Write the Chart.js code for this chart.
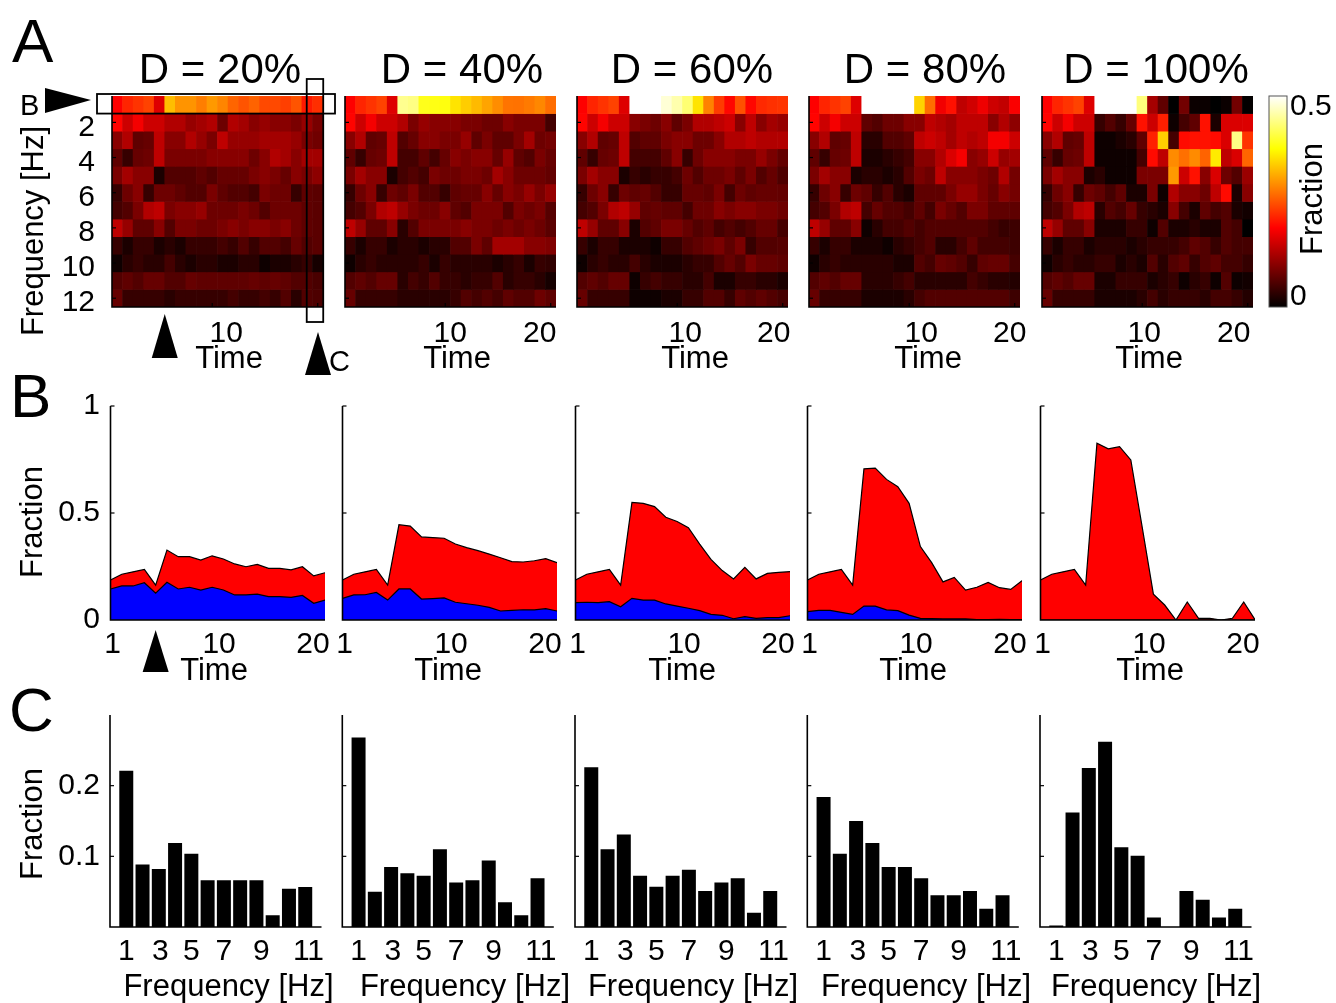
<!DOCTYPE html>
<html>
<head>
<meta charset="utf-8">
<script src="https://cdn.jsdelivr.net/npm/chart.js@4.4.1/dist/chart.umd.min.js"></script>
<style>
  body { margin: 0; background: #fff; }
  #fig { position: relative; width: 1336px; height: 1003px; overflow: hidden; background: #fff; }
  #fig canvas { position: absolute; left: 0; top: 0; }
</style>
</head>
<body>
<div id="fig"></div>
<script>
// ---- data -------------------------------------------------------------
const duty = [20, 40, 60, 80, 100];
const times = [1, 2, 3, 4, 5, 6, 7, 8, 9, 10, 11, 12, 13, 14, 15, 16, 17, 18, 19, 20];
const freqs = [1, 2, 3, 4, 5, 6, 7, 8, 9, 10, 11, 12];
const heatRowTicks = [2, 4, 6, 8, 10, 12];
const freqTickAt = [1, 3.1, 5, 7, 9.3, 12.2];
const freqTickText = ['1', '3', '5', '7', '9', '11'];

// fraction at 1 Hz over time (red = all, blue = lower part)
const total20 = [0.187, 0.214, 0.225, 0.236, 0.163, 0.327, 0.296, 0.296, 0.28, 0.30, 0.285, 0.262, 0.249, 0.26, 0.241, 0.241, 0.234, 0.249, 0.206, 0.221];
const blue20 = [0.145, 0.159, 0.159, 0.174, 0.125, 0.176, 0.145, 0.153, 0.14, 0.153, 0.14, 0.117, 0.117, 0.121, 0.109, 0.109, 0.106, 0.115, 0.078, 0.093];
const total40 = [0.187, 0.214, 0.225, 0.236, 0.163, 0.445, 0.439, 0.388, 0.385, 0.382, 0.355, 0.338, 0.324, 0.308, 0.291, 0.273, 0.271, 0.277, 0.287, 0.268];
const blue40 = [0.101, 0.117, 0.118, 0.129, 0.093, 0.145, 0.145, 0.098, 0.10, 0.103, 0.083, 0.076, 0.069, 0.059, 0.042, 0.045, 0.048, 0.047, 0.053, 0.042];
const total60 = [0.187, 0.214, 0.225, 0.236, 0.163, 0.55, 0.545, 0.53, 0.48, 0.46, 0.431, 0.355, 0.283, 0.231, 0.192, 0.246, 0.192, 0.218, 0.223, 0.226];
const blue60 = [0.081, 0.083, 0.081, 0.086, 0.062, 0.101, 0.093, 0.093, 0.075, 0.065, 0.055, 0.044, 0.026, 0.022, 0.006, 0.016, 0.008, 0.011, 0.011, 0.02];
const total80 = [0.187, 0.214, 0.225, 0.236, 0.163, 0.706, 0.71, 0.657, 0.623, 0.545, 0.343, 0.268, 0.178, 0.199, 0.14, 0.153, 0.176, 0.151, 0.143, 0.184];
const blue80 = [0.039, 0.045, 0.045, 0.036, 0.026, 0.065, 0.065, 0.047, 0.044, 0.023, 0.008, 0.006, 0.005, 0.005, 0.005, 0.002, 0.002, 0.003, 0.002, 0.002];
const total100 = [0.187, 0.214, 0.225, 0.236, 0.163, 0.826, 0.80, 0.81, 0.748, 0.436, 0.121, 0.07, 0, 0.084, 0.008, 0.008, 0, 0.008, 0.084, 0.002];
const blue100 = [0, 0, 0, 0, 0, 0, 0, 0, 0, 0, 0, 0, 0, 0, 0, 0, 0, 0, 0, 0];

// fraction per frequency at the last time step
const freq20 = [0.221, 0.0885, 0.082, 0.119, 0.1035, 0.066, 0.066, 0.066, 0.066, 0.0165, 0.054, 0.0565];
const freq40 = [0.268, 0.050, 0.085, 0.076, 0.0725, 0.11, 0.063, 0.066, 0.094, 0.035, 0.0165, 0.069];
const freq60 = [0.226, 0.11, 0.131, 0.0725, 0.057, 0.0725, 0.081, 0.051, 0.063, 0.069, 0.02, 0.051];
const freq80 = [0.184, 0.1035, 0.15, 0.119, 0.085, 0.085, 0.069, 0.045, 0.045, 0.051, 0.026, 0.045];
const freq100 = [0.002, 0.162, 0.225, 0.262, 0.113, 0.101, 0.0136, 0, 0.051, 0.0386, 0.0136, 0.026];

// heat map cells in percent, rows 2..12 Hz; times 1-5 are the same for every D
const hmEarly = [
  [19, 15, 18, 15, 15],
  [10, 13, 7, 7.5, 14],
  [7, 4, 7.5, 8, 14],
  [9, 12, 10, 10, 2],
  [4, 8, 10, 4, 8],
  [5, 6, 9, 13, 14],
  [14, 11, 7, 7, 10],
  [4, 2, 4, 4, 2],
  [1, 3, 4, 3, 3],
  [6, 7, 6, 7.5, 7.5],
  [7.5, 4, 4, 4, 4]
];
// times 6..19
const hm20 = [
  [13, 13, 11, 12, 13, 8, 13, 12, 10, 11, 10, 10, 9, 11],
  [10, 10, 13, 11, 9, 14, 11, 11, 11, 12, 12, 12, 11, 9],
  [9, 9, 9, 9, 10, 10, 10, 10, 8, 10, 13, 12, 10, 12],
  [6, 6, 6, 7, 6, 7.5, 7.5, 7.5, 9, 10, 9, 7.5, 10, 9],
  [8, 7, 6, 6, 9, 7, 6, 6, 5, 9, 8, 8, 4, 7],
  [9, 10, 10, 11, 8, 8, 8, 9, 8, 6, 8, 8, 8, 7],
  [6, 9, 9, 8, 8, 9, 10, 9, 10, 10, 9, 10, 8, 7],
  [3, 2, 4, 4, 4, 5, 4, 6, 4, 6, 6, 5, 7.5, 6],
  [5, 3, 2, 3, 3, 2, 2, 3, 3, 1, 2, 2, 3, 4],
  [6, 6, 7.5, 7, 7, 7, 7, 7, 7.5, 7, 7.5, 7, 6, 6],
  [3, 4, 4, 4, 4, 4, 5, 4, 4, 5, 4, 6, 3, 6]
];
const hm40 = [
  [13, 9, 11, 10, 10, 10, 9, 9, 8, 8, 10, 9, 9, 9],
  [6, 7.5, 10, 10, 9, 9, 11, 7, 9, 7, 7, 9, 12, 8],
  [5, 5, 7, 5, 7.5, 10, 9, 10, 10, 7.5, 11, 7, 6, 9],
  [5, 6, 5, 9, 8, 8, 9, 9, 8, 12, 10, 8, 8, 8],
  [7, 9, 6, 6, 4, 7, 7.5, 7.5, 10, 7.5, 10, 9, 11, 9],
  [11, 9, 8, 8, 10, 7, 6, 9, 9, 9, 6, 9, 8, 9],
  [3, 6, 9, 9, 9, 9, 10, 9, 9, 8, 9, 8, 9, 8],
  [3, 3, 2, 3, 3, 6, 6, 9, 7, 12, 12, 12, 10, 10],
  [3, 3, 4, 2, 4, 3, 3, 3, 3, 2, 3, 4, 2, 4],
  [3, 5, 4, 6, 4, 4, 3, 4, 4, 6, 3, 4, 4, 3],
  [3, 3, 3, 3, 3, 4, 6, 5, 6, 5, 7, 6, 6, 8]
];
const hm60 = [
  [10, 9, 8, 10, 7, 9, 13, 13, 14, 15, 10, 14, 10, 12],
  [6, 7, 7, 9, 10, 10, 8, 8, 10, 13, 13, 14, 13, 13],
  [5, 5, 5, 7, 10, 4, 8, 10, 10, 10, 9, 9, 11, 9],
  [4, 3, 4, 4, 5, 8, 6, 8, 8, 9, 7, 9, 6, 7.5],
  [7, 7.5, 6, 4, 4, 7.5, 7.5, 7, 9, 5, 8, 7, 7.5, 7.5],
  [11, 7, 7.5, 7, 7, 5, 8, 8, 10, 9, 10, 10, 9, 9],
  [2, 6, 7, 9, 9, 7.5, 6, 7, 5, 6, 5, 6, 7.5, 7.5],
  [2, 2, 1, 4, 4, 6, 7, 8, 9, 7, 9, 4, 6, 6],
  [5, 3, 2, 2, 2, 3, 4, 4, 6, 7.5, 6, 9, 7.5, 7.5],
  [1, 4, 5, 4, 4, 3, 3, 5, 2, 2, 4, 4, 3, 3],
  [1, 1, 1, 2, 2, 4, 4, 6, 6, 4, 7, 6, 7, 6]
];
const hm80 = [
  [7, 6, 8, 8, 10, 10, 14, 13, 12, 14, 14, 14, 10, 13],
  [3, 3, 6, 6, 7, 14, 15, 14, 12, 14, 13, 14, 18, 18],
  [2, 2, 3, 4, 5, 10, 10, 13, 16, 18, 10, 11, 15, 11],
  [3, 3, 2, 3, 6, 9, 8, 14, 10, 10, 10, 9, 8, 13],
  [7, 4, 6, 3, 2, 7, 7, 7, 9, 11, 11, 9, 7.5, 10],
  [5, 7.5, 6, 6, 5, 7, 5, 9, 7.5, 6, 9, 9, 7, 7],
  [1, 3, 5, 5, 6, 5, 6, 6, 6, 6, 6, 6, 5, 4],
  [2, 2, 1, 3, 4, 5, 6, 3, 3, 5, 7, 5, 5, 5],
  [3, 3, 3, 2, 2, 6, 5, 7.5, 7, 6, 4, 7, 7.5, 7.5],
  [3, 3, 3, 4, 5, 3, 3, 3, 3, 3, 5, 4, 3, 3],
  [2, 2, 2, 2, 3, 5, 6, 6, 6, 6, 6, 6, 6, 6]
];
const hm100 = [
  [4, 6, 4, 7.5, 20, 15, 21, 1, 5, 7, 20, 2, 16, 16],
  [1, 1, 2, 3, 7, 21, 34, 5, 19.5, 20, 20, 19.5, 16, 44],
  [1, 1, 1, 1, 5, 19.5, 14, 29, 27, 29, 26, 36, 14, 16],
  [3, 1, 1, 1, 9, 9, 9, 30, 15, 20, 10, 16, 8, 6],
  [7, 5, 7, 2, 2, 9, 1, 13, 10, 10, 8, 14, 19.5, 2],
  [3, 6, 5, 7.5, 4, 3, 2, 10, 5, 2, 7, 5, 6, 2],
  [2, 2, 2, 4, 4, 1, 6, 2, 2, 3, 2, 2, 6, 5],
  [3, 3, 3, 2, 3, 4, 4, 4, 5, 7, 6, 4, 6, 5],
  [4, 4, 2, 3, 2, 6, 3, 6, 7, 4, 6, 7, 5, 5],
  [2, 2, 4, 4, 4, 2, 3, 4, 1, 3, 4, 1, 6, 1],
  [2, 2, 2, 2, 3, 5, 3, 4, 4, 4, 3, 5, 5, 4]
];

const totals = [total20, total40, total60, total80, total100];
const blues = [blue20, blue40, blue60, blue80, blue100];
const spectra = [freq20, freq40, freq60, freq80, freq100];
const heatMid = [hm20, hm40, hm60, hm80, hm100];

// ---- layout -----------------------------------------------------------
const W = 1336, H = 1003;
const heatLeft = [112, 345, 577, 809, 1042];
const heatW = 211, heatTop = 96, heatBottom = 307;
const areaLeft = [110.5, 342.5, 575.5, 807.5, 1040.5];
const areaW = 214.5, areaTop = 406, areaBottom = 620;
const barLeft = [110, 342.3, 575, 807.3, 1040];
const barW = 211.5, barTop = 715, barBottom = 927;
const titleX = [220, 462, 692, 925, 1156];
const timeAX = [229, 457, 695, 928, 1149];
const timeBX = [214, 448, 682, 913, 1150];
const freqNameX = [228.5, 465, 693, 926, 1156];
const heatDx10 = [14, 5, 8, 12, 2];
const heatDx20 = [0, -11, -9, -5, -14];
const FONT = '"Liberation Sans", Arial, Helvetica, sans-serif';
const TICK = 30, NAME = 31, TITLE = 42, LETTER = 62;

Chart.defaults.font.family = FONT;
Chart.defaults.animation = false;

const fig = document.getElementById('fig');

function newCanvas() {
  const c = document.createElement('canvas');
  c.width = W; c.height = H;
  fig.appendChild(c);
  return c;
}

function area(l, t, r, b) {
  return { left: l, top: t, right: W - r, bottom: H - b };
}

function baseOptions(padding, scales) {
  return {
    responsive: false,
    devicePixelRatio: 1,
    events: [],
    layout: { padding },
    plugins: { legend: { display: false }, tooltip: { enabled: false }, title: { display: false } },
    scales
  };
}

// MATLAB-style "hot" map, colour limits 0..0.5
function hot(v) {
  const t = Math.max(0, Math.min(1, v / 0.5));
  const r = Math.min(1, t / 0.375);
  const g = Math.max(0, Math.min(1, (t - 0.375) / 0.375));
  const b = Math.max(0, Math.min(1, (t - 0.75) / 0.25));
  return `rgb(${Math.round(r * 255)},${Math.round(g * 255)},${Math.round(b * 255)})`;
}

function txt(ctx, s, x, y, size, align = 'center', base = 'alphabetic') {
  ctx.save();
  ctx.fillStyle = '#000';
  ctx.font = `${size}px ${FONT}`;
  ctx.textAlign = align;
  ctx.textBaseline = base;
  ctx.fillText(s, x, y);
  ctx.restore();
}

function vtxt(ctx, s, x, y, size) {
  ctx.save();
  ctx.translate(x, y);
  ctx.rotate(-Math.PI / 2);
  txt(ctx, s, 0, 0, size);
  ctx.restore();
}

function tri(ctx, pts) {
  ctx.save();
  ctx.fillStyle = '#000';
  ctx.beginPath();
  ctx.moveTo(pts[0][0], pts[0][1]);
  ctx.lineTo(pts[1][0], pts[1][1]);
  ctx.lineTo(pts[2][0], pts[2][1]);
  ctx.closePath();
  ctx.fill();
  ctx.restore();
}

function axisLines(ctx, a) {
  ctx.save();
  ctx.strokeStyle = '#000';
  ctx.lineWidth = 1.6;
  ctx.beginPath();
  ctx.moveTo(a.left, a.top);
  ctx.lineTo(a.left, a.bottom);
  ctx.lineTo(a.right, a.bottom);
  ctx.stroke();
  ctx.restore();
}

function tick(ctx, x1, y1, x2, y2) {
  ctx.save();
  ctx.strokeStyle = '#000';
  ctx.lineWidth = 1.2;
  ctx.beginPath();
  ctx.moveTo(x1, y1);
  ctx.lineTo(x2, y2);
  ctx.stroke();
  ctx.restore();
}

// ---- row A: heat maps -------------------------------------------------
function heatGrid(i) {
  const rows = [totals[i].slice()];
  for (let r = 0; r < 11; r++) {
    const early = hmEarly[r].map(p => p / 100);
    const mid = heatMid[i][r].map(p => p / 100);
    rows.push(early.concat(mid, [spectra[i][r + 1]]));
  }
  return rows;
}

function heatFrame(i) {
  return {
    id: 'heatFrame',
    afterDraw(chart) {
      const { ctx, chartArea: a } = chart;
      const { x, y } = chart.scales;
      axisLines(ctx, a);
      heatRowTicks.forEach(v => {
        const py = y.getPixelForValue(v - 0.5);
        tick(ctx, a.left, py, a.left + 4, py);
        if (i === 0) txt(ctx, String(v), 95, py + 5, TICK, 'right', 'middle');
      });
      [10, 20].forEach(v => {
        const px = x.getPixelForValue(v - 1);
        tick(ctx, px, a.bottom, px, a.bottom - 4);
      });
      txt(ctx, '10', x.getPixelForValue(9) + heatDx10[i], 342, TICK);
      if (i > 0) txt(ctx, '20', x.getPixelForValue(19) + heatDx20[i], 342, TICK);
      txt(ctx, `D = ${duty[i]}%`, titleX[i], 83, TITLE);
      txt(ctx, 'Time', timeAX[i], 368, NAME);
      if (i !== 0) return;

      txt(ctx, 'A', 12, 62, LETTER, 'left');
      vtxt(ctx, 'Frequency [Hz]', 43, 231, NAME);

      // box round the 1 Hz row, with its pointer
      const rowTop = y.getPixelForValue(0) - 2, rowBot = y.getPixelForValue(1);
      ctx.save();
      ctx.strokeStyle = '#000';
      ctx.lineWidth = 1.8;
      ctx.strokeRect(a.left - 15, rowTop, a.right - a.left + 27, rowBot - rowTop);
      // box round the last time column
      const cx = x.getPixelForValue(19);
      ctx.strokeRect(cx - 11, 79, 16.5, 243);
      ctx.restore();
      tri(ctx, [[45, 88], [45, 113], [91, 100]]);
      txt(ctx, 'B', 20, 115, 29, 'left');

      const ax = x.getPixelForValue(4.5);
      tri(ctx, [[ax, 314], [ax - 13, 358], [ax + 13, 358]]);
      tri(ctx, [[318, 332], [305, 375], [331, 375]]);
      txt(ctx, 'C', 329, 371, 29, 'left');
    }
  };
}

heatLeft.forEach((left, i) => {
  const grid = heatGrid(i);
  new Chart(newCanvas(), {
    type: 'bar',
    data: {
      labels: times.map(String),
      datasets: grid.map(row => ({
        data: row.map(() => 1),
        backgroundColor: row.map(hot),
        borderWidth: 0,
        barPercentage: 1,
        categoryPercentage: 1
      }))
    },
    options: baseOptions(area(left, heatTop, left + heatW, heatBottom), {
      x: { display: false, stacked: true, offset: true },
      y: { display: false, stacked: true, min: 0, max: 12, reverse: true }
    }),
    plugins: [heatFrame(i)]
  });
});

// colour bar
new Chart(newCanvas(), {
  type: 'bar',
  data: {
    labels: [''],
    datasets: [{
      data: [0.5],
      barPercentage: 1,
      categoryPercentage: 1,
      borderWidth: 0,
      backgroundColor(c) {
        const ys = c.chart.scales.y;
        const y0 = ys ? ys.getPixelForValue(0) : NaN;
        const y1 = ys ? ys.getPixelForValue(0.5) : NaN;
        if (!isFinite(y0) || !isFinite(y1)) return '#000';
        const g = c.chart.ctx.createLinearGradient(0, y0, 0, y1);
        g.addColorStop(0, '#000');
        g.addColorStop(0.375, '#f00');
        g.addColorStop(0.75, '#ff0');
        g.addColorStop(1, '#fff');
        return g;
      }
    }]
  },
  options: baseOptions(area(1269, heatTop, 1287, heatBottom), {
    x: { display: false },
    y: { display: false, min: 0, max: 0.5 }
  }),
  plugins: [{
    id: 'cbarFrame',
    afterDraw(chart) {
      const { ctx, chartArea: a } = chart;
      const ys = chart.scales.y;
      ctx.save();
      ctx.strokeStyle = '#555';
      ctx.lineWidth = 1;
      ctx.strokeRect(a.left, a.top, a.right - a.left, a.bottom - a.top);
      ctx.restore();
      txt(ctx, '0.5', 1290, ys.getPixelForValue(0.5) + 11, TICK, 'left', 'middle');
      txt(ctx, '0', 1290, ys.getPixelForValue(0) - 10, TICK, 'left', 'middle');
      vtxt(ctx, 'Fraction', 1322, 199, NAME);
    }
  }]
});

// ---- row B: 1 Hz fraction over time -----------------------------------
function areaFrame(i) {
  return {
    id: 'areaFrame',
    afterDraw(chart) {
      const { ctx, chartArea: a } = chart;
      const { x, y } = chart.scales;
      axisLines(ctx, a);
      [0.5, 1].forEach(v => {
        const py = y.getPixelForValue(v);
        tick(ctx, a.left, py, a.left + 4, py);
      });
      if (i === 0) {
        [0, 0.5, 1].forEach(v => txt(ctx, String(v), 100, y.getPixelForValue(v), TICK, 'right', 'middle'));
        vtxt(ctx, 'Fraction', 42, 522, NAME);
        txt(ctx, 'B', 10, 417, LETTER, 'left');
        const ax = x.getPixelForValue(5);
        tri(ctx, [[ax, 630], [ax - 13, 672], [ax + 13, 672]]);
      }
      txt(ctx, '1', x.getPixelForValue(1) + 2, 653, TICK);
      txt(ctx, '10', x.getPixelForValue(10) + 7, 653, TICK);
      txt(ctx, '20', x.getPixelForValue(20) - 12, 653, TICK);
      txt(ctx, 'Time', timeBX[i], 680, NAME);
    }
  };
}

areaLeft.forEach((left, i) => {
  new Chart(newCanvas(), {
    type: 'line',
    data: {
      datasets: [
        {
          data: times.map((t, k) => ({ x: t, y: blues[i][k] })),
          fill: 'origin',
          backgroundColor: '#0000ff',
          borderColor: '#000',
          borderWidth: 1.2,
          pointRadius: 0,
          tension: 0
        },
        {
          data: times.map((t, k) => ({ x: t, y: totals[i][k] })),
          fill: 'origin',
          backgroundColor: '#ff0000',
          borderColor: '#000',
          borderWidth: 1.2,
          pointRadius: 0,
          tension: 0
        }
      ]
    },
    options: baseOptions(area(left, areaTop, left + areaW, areaBottom), {
      x: { type: 'linear', display: false, min: 1, max: 20 },
      y: { display: false, min: 0, max: 1 }
    }),
    plugins: [areaFrame(i)]
  });
});

// ---- row C: spectrum at the last time step ----------------------------
function barFrame(i) {
  return {
    id: 'barFrame',
    afterDraw(chart) {
      const { ctx, chartArea: a } = chart;
      const { x, y } = chart.scales;
      axisLines(ctx, a);
      [0.1, 0.2].forEach(v => {
        const py = y.getPixelForValue(v);
        tick(ctx, a.left, py, a.left + 4, py);
        if (i === 0) txt(ctx, String(v), 100, py, TICK, 'right', 'middle');
      });
      freqTickAt.forEach((v, k) => txt(ctx, freqTickText[k], x.getPixelForValue(v), 960, TICK));
      txt(ctx, 'Frequency [Hz]', freqNameX[i], 996, NAME);
      if (i === 0) {
        vtxt(ctx, 'Fraction', 42, 824, NAME);
        txt(ctx, 'C', 9, 731, LETTER, 'left');
      }
    }
  };
}

barLeft.forEach((left, i) => {
  new Chart(newCanvas(), {
    type: 'bar',
    data: {
      datasets: [{
        data: freqs.map((f, k) => ({ x: f, y: spectra[i][k] })),
        backgroundColor: '#000',
        borderWidth: 0,
        barPercentage: 0.86,
        categoryPercentage: 1
      }]
    },
    options: baseOptions(area(left, barTop, left + barW, barBottom), {
      x: { type: 'linear', display: false, min: 0, max: 13, offset: false },
      y: { display: false, min: 0, max: 0.3 }
    }),
    plugins: [barFrame(i)]
  });
});
</script>
</body>
</html>
